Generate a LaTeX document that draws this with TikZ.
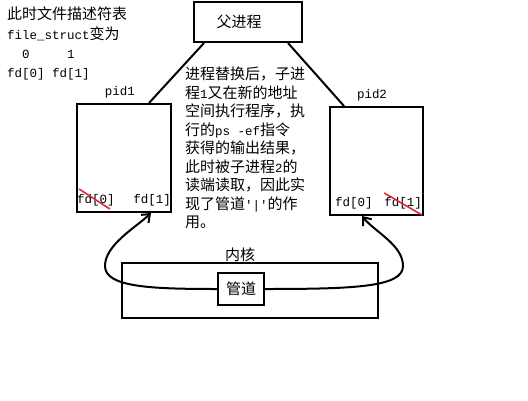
\documentclass[tikz,border=0pt]{standalone}
\usepackage{fontspec}
\setmainfont{Noto Sans CJK SC}
\setmonofont{Liberation Mono}[Scale=0.8333]
\usetikzlibrary{positioning,arrows.meta}
\definecolor{strike}{RGB}{222,40,58}

\begin{document}
\begin{tikzpicture}[x=1pt, y=-1pt,
    every node/.style={font=\fontsize{15pt}{18.5pt}\selectfont},
    box/.style={rectangle, draw, line width=2pt, inner sep=0pt},
    txt/.style={inner sep=0pt},
    flow/.style={line width=2pt, -{Straight Barb[length=7pt,width=11pt]}}]
    \useasboundingbox (0,0) rectangle (528,400);

    \node[box, minimum width=108pt, minimum height=40pt] (Parent) at (248,22) {\hspace*{-18pt}父进程};
    \node[box, minimum width=94pt, minimum height=108pt] (Pid1) at (124,158) {};
    \node[box, minimum width=93pt, minimum height=108pt] (Pid2) at (376.5,161) {};
    \node[box, minimum width=256pt, minimum height=55pt] (Kernel) at (250,290.5) {};
    \node[box, minimum width=46pt, minimum height=32pt] (Pipe) at (241,289) {管道};

    \node[txt] (Pid1Name) [above=5pt of Pid1, xshift=-4pt] {\ttfamily pid1};
    \node[txt] (Pid2Name) [above=5pt of Pid2, xshift=-4.5pt] {\ttfamily pid2};
    \node[txt] (KernelName) [above=0.5pt of Kernel, xshift=-10pt] {内核};

    \node[txt] (P1Fd0) [above right=7pt and 1pt of Pid1.south west] {\ttfamily fd[0]};
    \node[txt] (P1Fd1) [above left=7pt and 1pt of Pid1.south east] {\ttfamily fd[1]};
    \node[txt] (P2Fd0) [above right=7pt and 6pt of Pid2.south west] {\ttfamily fd[0]};
    \node[txt] (P2Fd1) [above left=7pt and 2pt of Pid2.south east] {\ttfamily fd[1]};

    \node[txt, anchor=north west, align=left, font=\fontsize{15pt}{19.3pt}\selectfont] (Table) at (7,7)
        {此时文件描述符表\\\texttt{file\_struct}变为\\\texttt{\ \ 0\ \ \ \ \ 1}\\\texttt{fd[0] fd[1]}};
    \node[txt, anchor=north west, align=left] (Note) at (185,67)
        {进程替换后，子进\\程\texttt{1}又在新的地址\\空间执行程序，执\\行的\texttt{ps -ef}指令\\获得的输出结果，\\此时被子进程\texttt{2}的\\读端读取，因此实\\现了管道\texttt{'|'}的作\\用。};

    \draw[line width=2pt] ([xshift=11pt]Parent.south west) -- ([xshift=-23pt]Pid1.north east);
    \draw[line width=2pt] ([xshift=-15pt]Parent.south east) -- ([xshift=15pt]Pid2.north west);

    \draw[strike, line width=1.6pt] ([shift={(2pt,5pt)}]P1Fd0.north west) -- ([shift={(-5pt,-3pt)}]P1Fd0.south east);
    \draw[strike, line width=1.6pt] ([yshift=4pt]P2Fd1.north west) -- ([yshift=-6pt]P2Fd1.south east);

    \draw[flow] (Pipe.west) .. controls (150,289) and (105,287) .. (105,266)
        .. controls (105,245) and (135,228) .. ([xshift=-21pt]Pid1.south east);
    \draw[flow] (Pipe.east) .. controls (355,289) and (403,287) .. (403,266)
        .. controls (403,245) and (375,232) .. ([xshift=-14.5pt]Pid2.south);
\end{tikzpicture}
\end{document}
